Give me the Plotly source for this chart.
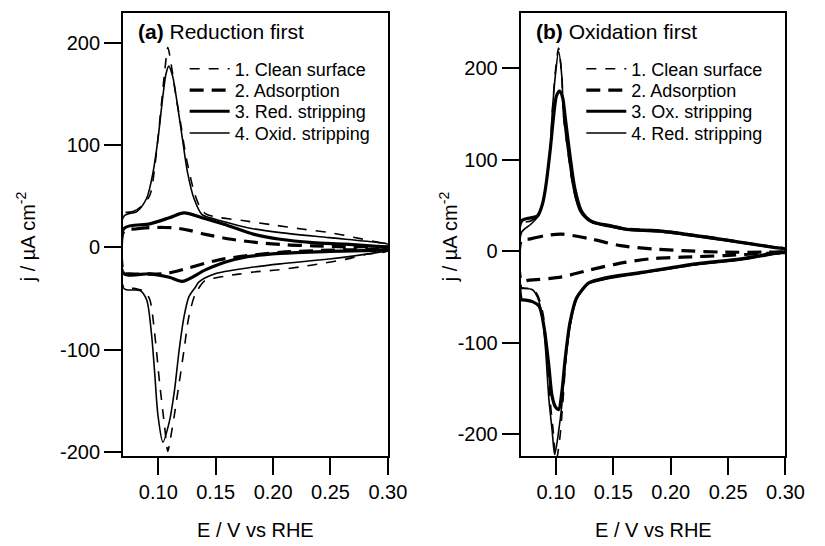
import plotly.graph_objects as go

FONT = "Liberation Sans, Arial, Helvetica, sans-serif"

# ---------------- Panel (a): Reduction first ----------------
a1_E = [0.070, 0.078, 0.085, 0.0926, 0.097, 0.1011, 0.1054, 0.1083, 0.111, 0.115, 0.1196, 0.1239, 0.131, 0.136, 0.141,
        0.149, 0.175, 0.200, 0.225, 0.249, 0.270, 0.292, 0.300,
        0.300, 0.280, 0.263, 0.243, 0.2235, 0.203, 0.183, 0.170, 0.158, 0.148, 0.141, 0.1324, 0.1267, 0.1224, 0.1182,
        0.1139, 0.110, 0.1083, 0.1054, 0.1011, 0.0968, 0.0926, 0.088, 0.080, 0.070, 0.070]
a1_j = [33, 35, 40, 51, 80, 122, 170, 195, 180, 150, 120, 90, 55, 40, 33,
        30, 26, 22, 18, 14.5, 10, 5, 3,
        -3, -7, -11.6, -15.5, -19, -22, -24, -26, -28, -30, -32, -45, -67, -100, -132,
        -164, -190, -199, -174, -132, -84, -51, -43, -40, -39, 33]

a2_E = [0.070, 0.080, 0.0926, 0.105, 0.1153, 0.128, 0.141, 0.1636, 0.1863, 0.2119, 0.2346, 0.263, 0.300,
        0.300, 0.2858, 0.2346, 0.2062, 0.1778, 0.1522, 0.1267, 0.115, 0.104, 0.0756, 0.070, 0.070]
a2_j = [16, 18, 19.3, 19.5, 19, 16.5, 12.8, 8, 4.8, 2.6, 1.6, 0.6, 0,
        -1, -1.6, -3.2, -4.8, -8, -12.2, -19.9, -23.5, -25.7, -25.7, -25, 16]

a3_E = [0.070, 0.0926, 0.1096, 0.1224, 0.1381, 0.1579, 0.1835, 0.2062, 0.2346, 0.263, 0.2971, 0.300,
        0.300, 0.297, 0.2488, 0.2062, 0.1778, 0.1579, 0.141, 0.121, 0.1096, 0.0926, 0.070, 0.070]
a3_j = [18.5, 23, 29, 33.8, 29, 22.5, 12.8, 8, 4.8, 3.2, 0.6, 0.5,
        -2.5, -2.6, -3.9, -5.8, -9, -14.5, -21.9, -33, -29, -25.7, -25.5, 18.5]

a4_E = [0.070, 0.0813, 0.0898, 0.0955, 0.0997, 0.104, 0.1068, 0.1091, 0.1125, 0.1168, 0.121, 0.1253, 0.131, 0.1381,
        0.141, 0.1778, 0.2062, 0.2488, 0.2914, 0.300,
        0.300, 0.2914, 0.2488, 0.2062, 0.1778, 0.1494, 0.1352, 0.1324, 0.1267, 0.1224, 0.1182, 0.1139, 0.1096, 0.104,
        0.0997, 0.0968, 0.094, 0.0898, 0.0841, 0.070, 0.070]
a4_j = [30.5, 35, 48, 74, 106, 148, 170, 177, 167, 138, 106, 74, 48, 32,
        30.5, 19.3, 14.5, 9.6, 4.8, 3,
        -3, -4.8, -11.3, -16, -20, -25.7, -33.8, -38.6, -48, -67.5, -99.6, -141, -170, -190,
        -164, -122, -84, -51, -42, -40, 30.5]

# ---------------- Panel (b): Oxidation first ----------------
b1_E = [0.070, 0.078, 0.0853, 0.0909, 0.0951, 0.0966, 0.0994, 0.1023, 0.1051, 0.1066, 0.1108, 0.1151, 0.1207, 0.1307,
        0.1477, 0.1619, 0.1903, 0.2329, 0.2613, 0.2897, 0.300,
        0.300, 0.2954, 0.2613, 0.2216, 0.1761, 0.1477, 0.1307, 0.1278, 0.1193, 0.1136, 0.1094, 0.1060, 0.1033, 0.1003,
        0.0975, 0.0948, 0.0919, 0.0891, 0.0848, 0.0805, 0.071, 0.070, 0.070]
b1_j = [30, 33, 40, 69, 112, 148, 195, 222, 191, 148, 105, 69, 45, 32,
        28.5, 25, 23, 16, 10.5, 5, 3,
        -1.5, -2, -9, -14.5, -23.5, -29, -34, -36, -47, -72, -108, -165, -205, -228,
        -195, -161, -107, -71, -50, -42, -40, -40, 30]

b2_E = [0.070, 0.0767, 0.090, 0.1051, 0.1307, 0.1562, 0.1846, 0.2102, 0.2471, 0.284, 0.300,
        0.300, 0.284, 0.2471, 0.2102, 0.1818, 0.1534, 0.1278, 0.1051, 0.0767, 0.070, 0.070]
b2_j = [12, 13.3, 17, 18.7, 13.3, 6.1, 2.5, 0.7, -1, -1, -1,
        -1.5, -2.2, -4.7, -6.5, -8.3, -13.7, -20.9, -28, -31.6, -32, 12]

b3_E = [0.070, 0.0838, 0.0881, 0.0909, 0.0951, 0.098, 0.1005, 0.1032, 0.1058, 0.1079, 0.1122, 0.1164, 0.1222, 0.1307,
        0.1477, 0.1619, 0.1903, 0.2329, 0.2613, 0.2897, 0.300,
        0.300, 0.2954, 0.2613, 0.2216, 0.1761, 0.1477, 0.1307, 0.1278, 0.1179, 0.1122, 0.108, 0.1051, 0.1023, 0.0995,
        0.0966, 0.0938, 0.0895, 0.0853, 0.0795, 0.071, 0.070, 0.070]
b3_j = [33, 38.5, 51, 69, 112, 148, 170, 175, 168, 148, 105, 69, 44, 33,
        27.7, 24, 22.3, 15.1, 9.7, 4.3, 2,
        -1, -1, -8.3, -13.7, -22.7, -28, -33.4, -35.3, -51, -78, -118, -154, -173, -170,
        -158, -125, -82, -60, -55, -53, -53, 33]

b4_E = [0.070, 0.0781, 0.0853, 0.0909, 0.0951, 0.0966, 0.0994, 0.1023, 0.1051, 0.1066, 0.1108, 0.1151, 0.1207, 0.1307,
        0.1477, 0.1619, 0.1903, 0.2329, 0.2613, 0.2897, 0.300,
        0.300, 0.2954, 0.2613, 0.2216, 0.1761, 0.1477, 0.1307, 0.1278, 0.1179, 0.1122, 0.108, 0.1051, 0.1023, 0.0989,
        0.0966, 0.0938, 0.0909, 0.0881, 0.0838, 0.0795, 0.071, 0.070, 0.070]
b4_j = [20.5, 29.5, 40, 69, 112, 148, 191, 218, 191, 148, 105, 69, 44, 31.5,
        26.5, 23, 21, 14, 9, 4, 2,
        -2, -2.5, -9.5, -15, -24, -29.5, -34.5, -36, -53, -82, -125, -168, -197, -222,
        -195, -161, -107, -71, -50, -42, -40.7, -40.7, 20.5]

names_a = ["1. Clean surface", "2. Adsorption", "3. Red. stripping", "4. Oxid. stripping"]
names_b = ["1. Clean surface", "2. Adsorption", "3. Ox. stripping", "4. Red. stripping"]

x_ticks = [0.10, 0.15, 0.20, 0.25, 0.30]
x_ticktext = ["0.10", "0.15", "0.20", "0.25", "0.30"]
y_ticks = [-200, -100, 0, 100, 200]
y_ticktext = ["-200", "-100", "0", "100", "200"]

styles = [
    dict(color="black", width=1.6, dash="10px,9px"),
    dict(color="black", width=3.2, dash="14px,8px"),
    dict(color="black", width=3.2, dash="solid"),
    dict(color="black", width=1.6, dash="solid"),
]

W, H = 825, 546
legend_rows_y = [70, 91.5, 113, 135]  # row centres (px from top)
legend_x = {"a": 189, "b": 595}

fig = go.Figure()
k = 0
for panel, xa, ya, Es, js, names in [
    ("a", "x", "y", [a1_E, a2_E, a3_E, a4_E], [a1_j, a2_j, a3_j, a4_j], names_a),
    ("b", "x2", "y2", [b1_E, b2_E, b3_E, b4_E], [b1_j, b2_j, b3_j, b4_j], names_b),
]:
    for i, (E, j, name, st) in enumerate(zip(Es, js, names, styles)):
        k += 1
        lg = "legend" if k == 1 else f"legend{k}"
        fig.add_trace(go.Scatter(x=E, y=j, mode="lines", name=name,
                                 line=dict(shape="spline", smoothing=0.8, **st),
                                 xaxis=xa, yaxis=ya, legend=lg, hoverinfo="skip"))
        key = "legend" if k == 1 else f"legend{k}"
        fig.update_layout({key: dict(x=legend_x[panel] / W, y=1 - legend_rows_y[i] / H,
                                     xanchor="left", yanchor="middle", bgcolor="rgba(0,0,0,0)",
                                     font=dict(family=FONT, size=18, color="black"),
                                     itemwidth=40, borderwidth=0)})

axis_common = dict(showline=True, mirror=True, linecolor="black", linewidth=2, ticks="outside",
                   ticklen=17, tickwidth=2, tickcolor="black", showgrid=False, zeroline=False,
                   tickfont=dict(family=FONT, size=20, color="black"))

ydom = [84 / H, 533 / H]
fig.update_layout(
    width=W, height=H, margin=dict(l=0, r=0, t=0, b=0),
    paper_bgcolor="white", plot_bgcolor="white",
    font=dict(family=FONT, color="black"),
    showlegend=True,
    xaxis=dict(domain=[126 / W, 397 / W], range=[0.0693, 0.30], tickvals=x_ticks, ticktext=x_ticktext,
               anchor="y", **axis_common),
    yaxis=dict(domain=ydom, range=[-203.6, 229], tickvals=y_ticks, ticktext=y_ticktext, anchor="x", **axis_common),
    xaxis2=dict(domain=[533 / W, 804 / W], range=[0.0693, 0.30], tickvals=x_ticks, ticktext=x_ticktext,
                anchor="y2", **axis_common),
    yaxis2=dict(domain=ydom, range=[-223.7, 260.4], tickvals=y_ticks, ticktext=y_ticktext, anchor="x2",
                **axis_common),
)

annotations = [
    dict(text="<b>(a)</b> Reduction first", x=139 / W, y=1 - 32 / H, xanchor="left", yanchor="middle", size=21),
    dict(text="<b>(b)</b> Oxidation first", x=547 / W, y=1 - 32 / H, xanchor="left", yanchor="middle", size=21),
    dict(text="E / V vs RHE", x=261.5 / W, y=1 - 537 / H, xanchor="center", yanchor="middle", size=20),
    dict(text="E / V vs RHE", x=668.5 / W, y=1 - 537 / H, xanchor="center", yanchor="middle", size=20),
    dict(text="j / µA cm<sup>-2</sup>", x=27 / W, y=1 - 240 / H, xanchor="center", yanchor="middle",
         textangle=-90, size=20),
    dict(text="j / µA cm<sup>-2</sup>", x=459 / W, y=1 - 240 / H, xanchor="center", yanchor="middle",
         textangle=-90, size=20),
]
for a in annotations:
    size = a.pop("size")
    fig.add_annotation(xref="paper", yref="paper", showarrow=False,
                       font=dict(family=FONT, size=size, color="black"), **a)

fig.write_html("out.html")
